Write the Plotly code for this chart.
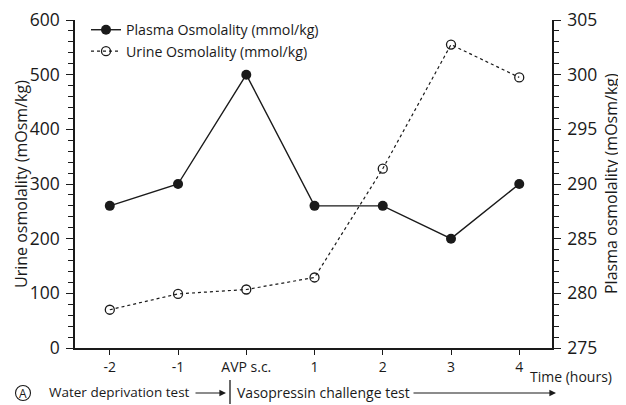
import plotly.graph_objects as go

categories = ["-2", "-1", "AVP s.c.", "1", "2", "3", "4"]
plasma_osm = [288, 290, 300, 288, 288, 285, 290]
urine_osm = [70, 99, 107, 129, 328, 555, 495]

xs = list(range(len(categories)))
FONT = "Open Sans"
INK = "#1a1a1a"

# page has an 8px body margin: figure placed at (8, 8)
OFF = 8
W, H = 626 - OFF, 405 - OFF
# plot area in page pixels: x 75..552, y 20..348
L = 75 - OFF
T = 20 - OFF
R = W - (552 - OFF)
B = H - (348 - OFF)
PW, PH = W - L - R, H - T - B

def px(x):
    return (x - OFF - L) / PW

def py(y):
    return (H - B - (y - OFF)) / PH

fig = go.Figure()
fig.add_trace(go.Scatter(
    x=xs, y=plasma_osm, name="Plasma Osmolality (mmol/kg)", yaxis="y2",
    mode="lines+markers",
    line=dict(color=INK, width=1.4),
    marker=dict(symbol="circle", size=10, color=INK),
))
fig.add_trace(go.Scatter(
    x=xs, y=urine_osm, name="Urine Osmolality (mmol/kg)",
    mode="lines+markers",
    line=dict(color=INK, width=1.2, dash="dot"),
    marker=dict(symbol="circle-open", size=9, color=INK, line=dict(width=1.3, color=INK)),
))

fig.update_layout(
    width=W, height=H,
    margin=dict(l=L, r=R, t=T, b=B, autoexpand=False),
    paper_bgcolor="white", plot_bgcolor="white",
    font=dict(family=FONT, color=INK),
    showlegend=True,
    legend=dict(x=px(86), y=py(14), xanchor="left", yanchor="top",
                font=dict(size=14.2, family=FONT), bgcolor="rgba(0,0,0,0)",
                tracegroupgap=0, itemwidth=30, traceorder="normal"),
    xaxis=dict(
        range=[-0.51, 6.48], tickmode="array", tickvals=xs, ticktext=categories,
        showgrid=False, zeroline=False, showline=True, linecolor=INK, linewidth=1.5,
        ticks="outside", ticklen=5, tickwidth=1.2, tickcolor=INK,
        tickfont=dict(size=14, family=FONT), ticklabelstandoff=0,
        ticklabeloverflow="allow",
    ),
    yaxis=dict(
        range=[0, 600], tickmode="linear", tick0=0, dtick=100,
        showgrid=False, zeroline=False, showline=True, linecolor=INK, linewidth=1.5,
        ticks="outside", ticklen=7, tickwidth=1.2, tickcolor=INK,
        minor=dict(dtick=20, ticks="outside", ticklen=5, tickwidth=1.1, tickcolor=INK, showgrid=False),
        tickfont=dict(size=17.5, family=FONT), ticklabelstandoff=3,
        ticklabeloverflow="allow",
    ),
    yaxis2=dict(
        range=[275, 305], tickmode="linear", tick0=275, dtick=5,
        overlaying="y", side="right", anchor="x",
        showgrid=False, zeroline=False, showline=True, linecolor=INK, linewidth=1.5,
        ticks="outside", ticklen=7, tickwidth=1.2, tickcolor=INK,
        minor=dict(dtick=1, ticks="outside", ticklen=5, tickwidth=1.1, tickcolor=INK, showgrid=False),
        tickfont=dict(size=17.5, family=FONT), ticklabelstandoff=3,
        ticklabeloverflow="allow",
    ),
)

ann = []
ann.append(dict(text="Urine osmolality (mOsm/kg)", x=px(21), y=py(184), xref="paper", yref="paper",
                xanchor="center", yanchor="middle",
                textangle=-90, showarrow=False, font=dict(size=16, family=FONT, color=INK)))
ann.append(dict(text="Plasma osmolality (mOsm/kg)", x=px(611), y=py(184), xref="paper", yref="paper",
                xanchor="center", yanchor="middle",
                textangle=-90, showarrow=False, font=dict(size=16, family=FONT, color=INK)))
ann.append(dict(text="Time (hours)", x=px(614), y=py(376), xref="paper", yref="paper",
                xanchor="right", yanchor="middle", showarrow=False, font=dict(size=14, family=FONT, color=INK)))
ann.append(dict(text="A", x=px(23), y=py(393), xref="paper", yref="paper",
                xanchor="center", yanchor="middle", showarrow=False, font=dict(size=12, family=FONT, color=INK)))
ann.append(dict(text="Water deprivation test", x=px(47), y=py(392), xref="paper", yref="paper",
                xanchor="left", yanchor="middle", showarrow=False, font=dict(size=13.5, family=FONT, color=INK)))
ann.append(dict(text="Vasopressin challenge test", x=px(235), y=py(392), xref="paper", yref="paper",
                xanchor="left", yanchor="middle", showarrow=False, font=dict(size=14, family=FONT, color=INK)))
ann.append(dict(text="", x=px(226), y=py(393), xref="paper", yref="paper", ax=-32, ay=0,
                showarrow=True, arrowhead=2, arrowsize=1.1, arrowwidth=1.2, arrowcolor=INK))
ann.append(dict(text="", x=px(556), y=py(393), xref="paper", yref="paper", ax=-144, ay=0,
                showarrow=True, arrowhead=2, arrowsize=1.1, arrowwidth=1.2, arrowcolor=INK))
fig.update_layout(annotations=ann)

fig.add_shape(type="line", xref="paper", yref="paper", x0=px(230), x1=px(230), y0=py(380), y1=py(404),
              line=dict(color=INK, width=1.3))
fig.add_shape(type="circle", xref="paper", yref="paper", xsizemode="pixel", ysizemode="pixel",
              xanchor=px(23), yanchor=py(393), x0=-7.5, x1=7.5, y0=-7.5, y1=7.5,
              line=dict(color=INK, width=1.1))

fig.write_html("out.html")
